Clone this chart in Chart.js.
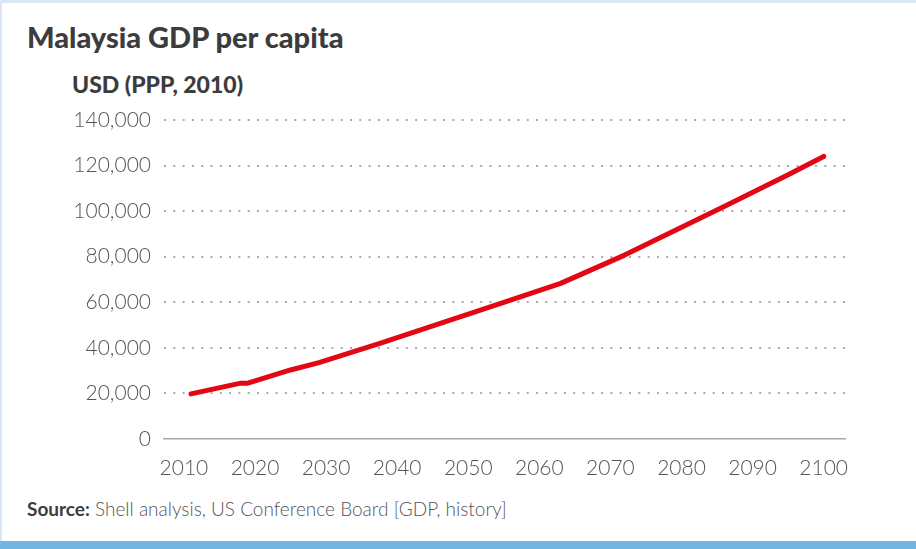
<!DOCTYPE html>
<html>
<head>
<meta charset="utf-8">
<script src="https://cdn.jsdelivr.net/npm/chart.js@4.4.1/dist/chart.umd.min.js"></script>
<style>
  html, body { margin: 0; padding: 0; background: #fff; }
  body { width: 916px; height: 549px; position: relative; overflow: hidden; font-family: 'Lato', 'DejaVu Sans', sans-serif; }
  .frame-top { position: absolute; left: 0; top: 0; width: 916px; height: 3px; background: #dae8f5; }
  .frame-left { position: absolute; left: 0; top: 0; width: 2px; height: 549px; background: #dae8f5; }
  .frame-bottom { position: absolute; left: 0; top: 541px; width: 916px; height: 8px; background: #72b4e2; }
  .title { position: absolute; left: 27px; top: 19px; font-size: 29px; font-weight: 900; color: #3c3c3c; }
  .subtitle { position: absolute; left: 72px; top: 70px; font-size: 23px; font-weight: 900; color: #3c3c3c; }
  .source { position: absolute; left: 27px; top: 497px; font-size: 19px; font-weight: 300; color: #555; }
  .source b { font-weight: 700; color: #3c3c3c; }
  .wrap { position: absolute; left: 0; top: 0; width: 916px; height: 490px; }
</style>
</head>
<body>
<div class="frame-top"></div>
<div class="frame-left"></div>
<div class="title">Malaysia GDP per capita</div>
<div class="subtitle">USD (PPP, 2010)</div>
<div class="wrap"><canvas id="gdpChart"></canvas></div>
<div class="source"><b>Source:</b> Shell analysis, US Conference Board [GDP, history]</div>
<div class="frame-bottom"></div>
<script>
// values (break points of the line)
const years = [2011, 2018, 2019, 2025, 2029, 2038, 2055, 2063, 2072, 2086, 2095, 2100];
const gdpPerCapita = [19800, 24500, 24500, 30300, 33500, 42400, 60000, 68300, 80700, 102000, 116000, 124000];
const yearTicks = [2010, 2020, 2030, 2040, 2050, 2060, 2070, 2080, 2090, 2100];
const valueTicks = [0, 20000, 40000, 60000, 80000, 100000, 120000, 140000];

const tickFont = { family: "'Lato', 'DejaVu Sans', sans-serif", size: 21, weight: 300 };

new Chart(document.getElementById('gdpChart'), {
  type: 'line',
  data: {
    datasets: [{
      data: years.map((y, i) => ({ x: y, y: gdpPerCapita[i] })),
      borderColor: '#e30613',
      borderWidth: 5,
      borderCapStyle: 'round',
      borderJoinStyle: 'round',
      pointRadius: 0,
      tension: 0,
      fill: false,
    }],
  },
  options: {
    responsive: true,
    maintainAspectRatio: false,
    animation: false,
    layout: { padding: { top: 120, right: 71, left: 0, bottom: 0 } },
    plugins: { legend: { display: false }, tooltip: { enabled: false } },
    scales: {
      x: {
        type: 'linear',
        min: 2007.2,
        max: 2103,
        afterBuildTicks: axis => { axis.ticks = yearTicks.map(v => ({ value: v })); },
        afterFit: axis => { axis.height = 51; },
        grid: { display: false },
        border: { display: true, color: '#aaaaaa', width: 1.5 },
        ticks: { color: '#555', font: tickFont, padding: 9, maxRotation: 0, callback: v => String(v) },
      },
      y: {
        min: 0,
        max: 140000,
        afterBuildTicks: axis => { axis.ticks = valueTicks.map(v => ({ value: v })); },
        afterFit: axis => { axis.width = 164; },
        border: { display: false, dash: [2, 7.3] },
        grid: {
          drawTicks: false,
          lineWidth: 2,
          color: c => c.tick && c.tick.value === 0 ? 'rgba(0,0,0,0)' : '#aaaaaa',
        },
        ticks: {
          color: '#555', font: tickFont, padding: 13,
          callback: v => v.toLocaleString('en-US'),
        },
      },
    },
  },
});
</script>
</body>
</html>
